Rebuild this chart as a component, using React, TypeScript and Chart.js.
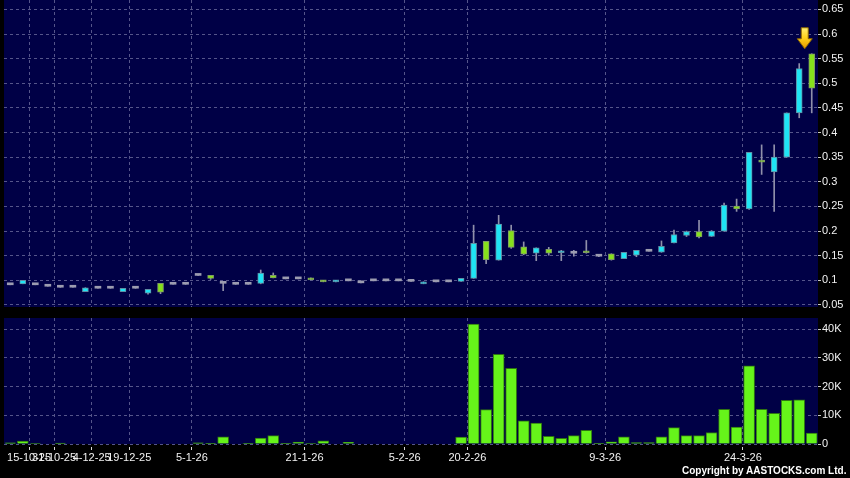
import React, { useEffect, useRef } from 'react';
import { Chart, registerables } from 'chart.js';

Chart.register(...registerables);

// ---- data (one entry per trading session shown) ----
const openP = [
  0.091, 0.093, 0.091, 0.088, 0.086, 0.086, 0.077, 0.084, 0.084, 0.077,
  0.084, 0.074, 0.094, 0.092, 0.092, 0.110, 0.110, 0.094, 0.092, 0.092,
  0.094, 0.110, 0.103, 0.103, 0.105, 0.100, 0.097, 0.099, 0.095, 0.099,
  0.099, 0.099, 0.098, 0.093, 0.097, 0.097, 0.098, 0.104, 0.179, 0.141,
  0.201, 0.168, 0.155, 0.163, 0.156, 0.155, 0.160, 0.149, 0.154, 0.144,
  0.151, 0.159, 0.157, 0.176, 0.191, 0.199, 0.189, 0.200, 0.251, 0.245,
  0.344, 0.320, 0.350, 0.440, 0.560,
];
const highP = [
  0.091, 0.100, 0.091, 0.088, 0.086, 0.086, 0.085, 0.084, 0.084, 0.084,
  0.084, 0.082, 0.094, 0.092, 0.092, 0.110, 0.110, 0.094, 0.092, 0.092,
  0.121, 0.115, 0.103, 0.103, 0.105, 0.100, 0.100, 0.099, 0.095, 0.099,
  0.099, 0.099, 0.098, 0.097, 0.097, 0.097, 0.104, 0.212, 0.179, 0.232,
  0.212, 0.178, 0.166, 0.167, 0.161, 0.161, 0.181, 0.150, 0.154, 0.157,
  0.161, 0.159, 0.180, 0.202, 0.200, 0.222, 0.201, 0.257, 0.265, 0.360,
  0.375, 0.375, 0.440, 0.540, 0.560,
];
const lowP = [
  0.091, 0.093, 0.091, 0.088, 0.086, 0.086, 0.077, 0.084, 0.084, 0.077,
  0.084, 0.072, 0.073, 0.092, 0.092, 0.110, 0.102, 0.079, 0.092, 0.092,
  0.093, 0.105, 0.103, 0.103, 0.101, 0.097, 0.097, 0.099, 0.095, 0.099,
  0.099, 0.099, 0.098, 0.093, 0.097, 0.097, 0.098, 0.104, 0.134, 0.141,
  0.165, 0.152, 0.140, 0.151, 0.140, 0.149, 0.155, 0.148, 0.141, 0.144,
  0.148, 0.159, 0.157, 0.176, 0.189, 0.186, 0.189, 0.200, 0.240, 0.244,
  0.315, 0.240, 0.350, 0.430, 0.440,
];
const closeP = [
  0.091, 0.100, 0.091, 0.088, 0.086, 0.086, 0.085, 0.084, 0.084, 0.084,
  0.084, 0.082, 0.076, 0.092, 0.092, 0.110, 0.104, 0.094, 0.092, 0.092,
  0.115, 0.105, 0.103, 0.103, 0.101, 0.097, 0.100, 0.099, 0.095, 0.099,
  0.099, 0.099, 0.098, 0.097, 0.097, 0.097, 0.104, 0.175, 0.142, 0.214,
  0.167, 0.153, 0.166, 0.155, 0.160, 0.155, 0.156, 0.149, 0.142, 0.157,
  0.161, 0.159, 0.169, 0.193, 0.199, 0.188, 0.200, 0.253, 0.245, 0.360,
  0.340, 0.350, 0.440, 0.530, 0.490,
];
// volume in thousands of shares
const volumeK = [
  0.4, 1.0, 0.2, 0, 0.3, 0, 0, 0, 0, 0,
  0, 0, 0, 0, 0, 0.4, 0.1, 2.5, 0, 0.1,
  2.1, 2.9, 0.1, 0.7, 0.2, 1.1, 0, 0.6, 0, 0,
  0, 0, 0, 0, 0, 0, 2.4, 41.8, 12.0, 31.3,
  26.4, 8.1, 7.3, 2.7, 2.0, 2.9, 4.8, 0.1, 0.8, 2.5,
  0.5, 0.5, 2.5, 5.7, 2.9, 2.9, 4.0, 12.1, 5.9, 27.3,
  12.1, 10.7, 15.2, 15.4, 3.8,
];
const dateTickIndex = [2, 4, 7, 10, 15, 24, 32, 37, 48, 59];
const dateTickLabels = [
  '15-10-25', '31-10-25', '4-12-25', '19-12-25', '5-1-26',
  '21-1-26', '5-2-26', '20-2-26', '9-3-26', '24-3-26',
];
const priceTicks = [0.05, 0.1, 0.15, 0.2, 0.25, 0.3, 0.35, 0.4, 0.45, 0.5, 0.55, 0.6, 0.65];
const volumeTicks = [0, 10, 20, 30, 40];

// ---- styles ----
const PANEL = '#000046';
const GRID = '#55558a';
const TEXT = '#f2f2f2';
const FONT = '"Liberation Sans", Arial, sans-serif';
const CYAN = '#1fe4f4';
const CYAN_EDGE = '#5f8ea4';
const GREEN = '#86e01c';
const GREEN_EDGE = '#7f9a66';
const FLAT = '#9c9cb0';
const WICK = '#9090aa';
const VOL = '#66f41a';
const VOL_EDGE = '#2f7412';

const N = closeP.length;
const idx = Array.from({ length: N }, (_, i) => i);
const fmtPrice = (v: number) => String(Math.round(v * 100) / 100);

const panelBg = {
  id: 'panelBg',
  beforeDraw(chart: any) {
    const { ctx, chartArea } = chart;
    ctx.save();
    ctx.fillStyle = PANEL;
    ctx.fillRect(chartArea.left, chartArea.top, chartArea.right - chartArea.left, chartArea.bottom - chartArea.top);
    ctx.restore();
  },
};

const arrowMark = {
  id: 'arrowMark',
  afterDatasetsDraw(chart: any) {
    const last = N - 1;
    const x = chart.scales.x.getPixelForValue(last) - 7;
    const tip = chart.scales.y.getPixelForValue(highP[last]) - 5;
    const ctx = chart.ctx;
    ctx.save();
    const g = ctx.createLinearGradient(0, tip - 22, 0, tip);
    g.addColorStop(0, '#fff27a');
    g.addColorStop(0.5, '#ffd21a');
    g.addColorStop(1, '#e89a00');
    ctx.beginPath();
    ctx.moveTo(x - 3.5, tip - 21);
    ctx.lineTo(x + 3.5, tip - 21);
    ctx.lineTo(x + 3.5, tip - 10);
    ctx.lineTo(x + 7.5, tip - 10);
    ctx.lineTo(x, tip);
    ctx.lineTo(x - 7.5, tip - 10);
    ctx.lineTo(x - 3.5, tip - 10);
    ctx.closePath();
    ctx.fillStyle = g;
    ctx.fill();
    ctx.strokeStyle = '#8a6400';
    ctx.lineWidth = 1;
    ctx.stroke();
    ctx.restore();
  },
};

const xBase = (showLabels: boolean) => ({
  type: 'linear' as const,
  bounds: 'data' as const,
  min: -0.5,
  max: N - 0.5,
  offset: false,
  afterBuildTicks: (s: any) => {
    s.ticks = dateTickIndex.map((k) => ({ value: k - 0.5 }));
  },
  ticks: showLabels
    ? {
        display: true,
        autoSkip: false,
        maxRotation: 0,
        minRotation: 0,
        color: TEXT,
        padding: 1,
        font: { family: FONT, size: 11 },
        callback: (_v: any, i: number) => dateTickLabels[i],
      }
    : { display: false },
  grid: showLabels
    ? { offset: false, color: GRID, drawTicks: true, tickLength: 6, tickColor: '#d8d8d8', tickBorderDash: [0, 3, 3, 20] }
    : { offset: false, color: GRID, drawTicks: false },
  border: { display: false, dash: [3, 3] },
  afterFit: (s: any) => {
    s.height = showLabels ? 34 : 0;
    s.paddingLeft = 0;
    s.paddingRight = 0;
  },
});

const yBase = (min: number, max: number, values: number[], fmt: (v: number) => string) => ({
  type: 'linear' as const,
  position: 'right' as const,
  bounds: 'data' as const,
  beginAtZero: false,
  min,
  max,
  afterBuildTicks: (s: any) => {
    s.ticks = values.map((v) => ({ value: v }));
  },
  ticks: {
    color: TEXT,
    padding: 1,
    font: { family: FONT, size: 11 },
    callback: (v: any) => fmt(Number(v)),
  },
  grid: { color: GRID, drawTicks: true, tickLength: 3, tickColor: '#c8c8c8' },
  border: { display: false, dash: [3, 3] },
  afterFit: (s: any) => {
    s.width = 32;
    s.paddingTop = 0;
    s.paddingBottom = 0;
  },
});

export default function App() {
  const priceRef = useRef<HTMLCanvasElement>(null);
  const volRef = useRef<HTMLCanvasElement>(null);

  useEffect(() => {
    const kind = (i: number) =>
      closeP[i] > openP[i] ? 'up' : closeP[i] < openP[i] ? 'down' : 'flat';

    const priceChart = new Chart(priceRef.current as HTMLCanvasElement, {
      type: 'bar',
      data: {
        datasets: [
          {
            label: 'range',
            data: idx.map((i) => ({ x: i, y: [lowP[i], highP[i]] })) as any,
            backgroundColor: WICK,
            barThickness: 1,
            grouped: false,
            order: 2,
          } as any,
          {
            label: 'body',
            data: idx.map((i) => ({
              x: i,
              y: [Math.min(openP[i], closeP[i]), Math.max(openP[i], closeP[i])],
            })) as any,
            backgroundColor: (c: any) => {
              const k = kind(c.dataIndex);
              return k === 'up' ? CYAN : k === 'down' ? GREEN : FLAT;
            },
            borderColor: (c: any) => {
              const k = kind(c.dataIndex);
              return k === 'up' ? CYAN_EDGE : k === 'down' ? GREEN_EDGE : FLAT;
            },
            borderWidth: (c: any) => (kind(c.dataIndex) === 'flat' ? 0 : 1),
            borderSkipped: false,
            barThickness: 6,
            minBarLength: 2,
            grouped: false,
            order: 1,
          } as any,
        ],
      },
      options: {
        animation: false,
        responsive: false,
        maintainAspectRatio: false,
        devicePixelRatio: 1,
        layout: { padding: { left: 4, right: 0, top: 0, bottom: 1 } },
        plugins: { legend: { display: false }, tooltip: { enabled: false } },
        scales: {
          x: xBase(false) as any,
          y: yBase(0.0459, 0.6691, priceTicks, fmtPrice) as any,
        },
      },
      plugins: [panelBg, arrowMark],
    });

    const volChart = new Chart(volRef.current as HTMLCanvasElement, {
      type: 'bar',
      data: {
        datasets: [
          {
            label: 'volume',
            data: idx.map((i) => ({ x: i, y: volumeK[i] })) as any,
            backgroundColor: VOL,
            borderColor: VOL_EDGE,
            borderWidth: 1,
            barThickness: 11,
            grouped: false,
          } as any,
        ],
      },
      options: {
        animation: false,
        responsive: false,
        maintainAspectRatio: false,
        devicePixelRatio: 1,
        layout: { padding: { left: 4, right: 0, top: 10, bottom: 0 } },
        plugins: { legend: { display: false }, tooltip: { enabled: false } },
        scales: {
          x: xBase(true) as any,
          y: yBase(0, 43.94, volumeTicks, (v) => (v === 0 ? '0' : `${v}K`)) as any,
        },
      },
      plugins: [panelBg],
    });

    return () => {
      priceChart.destroy();
      volChart.destroy();
    };
  }, []);

  return (
    <div
      style={{
        position: 'absolute',
        left: 0,
        top: 0,
        width: 850,
        height: 478,
        background: '#000',
        overflow: 'hidden',
      }}
    >
      <canvas ref={priceRef} width={850} height={308} style={{ position: 'absolute', left: 0, top: 0 }} />
      <canvas ref={volRef} width={850} height={170} style={{ position: 'absolute', left: 0, top: 308 }} />
      <div
        style={{
          position: 'absolute',
          left: 682,
          top: 465,
          font: `bold 10px ${FONT}`,
          color: '#ffffff',
          whiteSpace: 'nowrap',
        }}
      >
        Copyright by AASTOCKS.com Ltd.
      </div>
    </div>
  );
}
